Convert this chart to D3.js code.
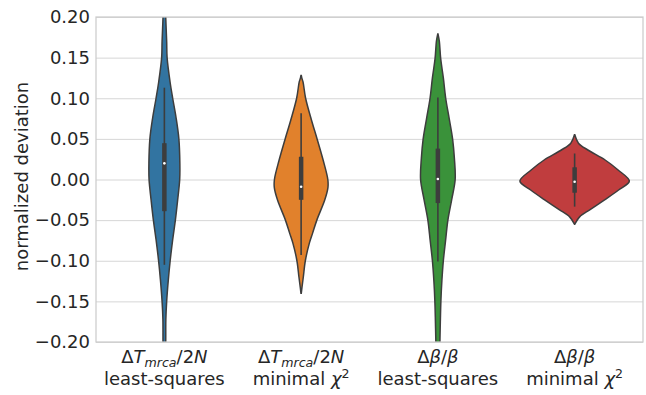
<!DOCTYPE html>
<html>
<head>
<meta charset="utf-8">
<script src="https://cdn.jsdelivr.net/npm/d3@7"></script>
<style>
  body { margin: 0; background: #fff; }
  text { font-family: "DejaVu Sans", sans-serif; fill: #262626; }
</style>
</head>
<body>
<div id="chart"></div>
<script>
const categories = ["dtLs", "dtChi", "dbLs", "dbChi"]
const colors = ["#3274a1", "#e1812c", "#3a923a", "#c03d3e"]
const yTicks = [-0.20, -0.15, -0.10, -0.05, 0.00, 0.05, 0.10, 0.15, 0.20]

// first label line as [text, italic, sub/sup]
const labelTop = [
  [["Δ"], ["T", true], ["mrca", true, "sub"], ["/2"], ["N", true]],
  [["Δ"], ["T", true], ["mrca", true, "sub"], ["/2"], ["N", true]],
  [["Δ"], ["β", true], ["/"], ["β", true]],
  [["Δ"], ["β", true], ["/"], ["β", true]]
]
const labelBottom = [
  [["least-squares"]],
  [["minimal "], ["χ", true], ["2", false, "sup"]],
  [["least-squares"]],
  [["minimal "], ["χ", true], ["2", false, "sup"]]
]

// violin outlines: [value, relative density width]
const dtLsProfile = [
  [0.24, 0.003], [0.22, 0.018], [0.199, 0.025], [0.17, 0.042], [0.15, 0.05], [0.12, 0.104],
  [0.10, 0.152], [0.076, 0.214], [0.05, 0.265], [0.02, 0.283], [0.00, 0.28],
  [-0.025, 0.243], [-0.05, 0.201], [-0.074, 0.152], [-0.10, 0.106], [-0.123, 0.073],
  [-0.15, 0.042], [-0.172, 0.027], [-0.20, 0.025], [-0.22, 0.018], [-0.24, 0.003]
]
const dtChiProfile = [
  [0.128, 0.003], [0.125, 0.012], [0.12, 0.035], [0.10, 0.082], [0.073, 0.19], [0.049, 0.296],
  [0.024, 0.402], [0.0, 0.488], [-0.01, 0.49], [-0.025, 0.433], [-0.05, 0.287],
  [-0.066, 0.21], [-0.078, 0.152], [-0.10, 0.077], [-0.12, 0.04], [-0.133, 0.015], [-0.14, 0.003]
]
const dbLsProfile = [
  [0.179, 0.003], [0.17, 0.027], [0.149, 0.051], [0.125, 0.1], [0.10, 0.143], [0.075, 0.207],
  [0.05, 0.269], [0.026, 0.302], [0.0, 0.316], [-0.025, 0.252], [-0.05, 0.183],
  [-0.075, 0.141], [-0.10, 0.1], [-0.125, 0.073], [-0.15, 0.055], [-0.175, 0.045],
  [-0.20, 0.037], [-0.22, 0.03], [-0.24, 0.01]
]
const dbChiProfile = [
  [0.055, 0.003], [0.0447, 0.07], [0.036, 0.25], [0.024, 0.558], [0.0117, 0.795],
  [-0.002, 1.0], [-0.0129, 0.804], [-0.025, 0.548], [-0.037, 0.283], [-0.046, 0.091], [-0.055, 0.003]
]
const profiles = [dtLsProfile, dtChiProfile, dbLsProfile, dbChiProfile]

// inner box stats
const q1 = [-0.039, -0.025, -0.029, -0.0163]
const q3 = [0.0447, 0.028, 0.038, 0.015]
const medians = [0.0199, -0.0089, 0.0006, -0.0027]
const whiskerLow = [-0.105, -0.093, -0.101, -0.0334]
const whiskerHigh = [0.113, 0.0816, 0.101, 0.032]

const width = 646
const height = 395
const margin = {top: 17, right: 3, bottom: 53, left: 96}
const plotW = width - margin.left - margin.right
const plotH = height - margin.top - margin.bottom
const gray = "#3d3d3d"
const fontSize = 18

const svg = d3.select("#chart").append("svg")
  .attr("width", width)
  .attr("height", height)

const x = d3.scaleBand().domain(categories).range([margin.left, margin.left + plotW])
const y = d3.scaleLinear().domain([-0.2, 0.2]).range([margin.top + plotH, margin.top])
const w = d3.scaleLinear().domain([0, 1]).range([0, x.bandwidth() * 0.4])
const cx = c => x(c) + x.bandwidth() / 2

// grid
svg.append("g")
  .attr("transform", `translate(${margin.left},0)`)
  .call(d3.axisLeft(y).tickValues(yTicks).tickSize(-plotW).tickFormat(""))
  .call(g => g.select(".domain").remove())
  .call(g => g.selectAll("line").attr("stroke", "#d6d6d6").attr("stroke-width", 1))

// y tick labels
svg.append("g")
  .attr("transform", `translate(${margin.left},0)`)
  .call(d3.axisLeft(y).tickValues(yTicks).tickSize(0).tickPadding(6).tickFormat(d3.format(".2f")))
  .call(g => g.select(".domain").remove())
  .call(g => g.selectAll("text").attr("font-size", fontSize).attr("fill", "#262626")
    .style("font-family", "'DejaVu Sans', sans-serif"))

svg.append("defs").append("clipPath").attr("id", "clip")
  .append("rect")
  .attr("x", margin.left).attr("y", margin.top)
  .attr("width", plotW).attr("height", plotH)

const violins = svg.append("g").attr("clip-path", "url(#clip)")

categories.forEach((c, i) => {
  const data = profiles[i].slice().sort((a, b) => b[0] - a[0])
  const area = d3.area()
    .curve(d3.curveCatmullRom)
    .y(d => y(d[0]))
    .x0(d => cx(c) - w(d[1]))
    .x1(d => cx(c) + w(d[1]))
  violins.append("path")
    .datum(data)
    .attr("d", area)
    .attr("fill", colors[i])
    .attr("stroke", gray)
    .attr("stroke-width", 1.5)

  // whiskers
  violins.append("line")
    .attr("x1", cx(c)).attr("x2", cx(c))
    .attr("y1", y(whiskerLow[i])).attr("y2", y(whiskerHigh[i]))
    .attr("stroke", gray).attr("stroke-width", 1.6)
  // box
  violins.append("line")
    .attr("x1", cx(c)).attr("x2", cx(c))
    .attr("y1", y(q1[i])).attr("y2", y(q3[i]))
    .attr("stroke", gray).attr("stroke-width", 4.5)
  // median
  violins.append("circle")
    .attr("cx", cx(c)).attr("cy", y(medians[i]))
    .attr("r", 1.3)
    .attr("fill", "#fff")
})

// frame
svg.append("rect")
  .attr("x", margin.left).attr("y", margin.top)
  .attr("width", plotW).attr("height", plotH)
  .attr("fill", "none")
  .attr("stroke", "#cccccc")
  .attr("stroke-width", 1.25)

// x labels
const addParts = (sel, parts) => {
  let shift = 0
  parts.forEach(p => {
    const t = sel.append("tspan").text(p[0])
    let target = 0
    if (p[1]) t.attr("font-style", "italic")
    if (p[2] === "sub") { t.attr("font-size", 12.6); target = 3.5 }
    if (p[2] === "sup") { t.attr("font-size", 12.6); target = -7.5 }
    if (target !== shift) t.attr("dy", target - shift)
    shift = target
  })
}

categories.forEach((c, i) => {
  const t1 = svg.append("text")
    .attr("x", cx(c)).attr("y", 363)
    .attr("text-anchor", "middle")
    .attr("font-size", fontSize)
  addParts(t1, labelTop[i])
  const t2 = svg.append("text")
    .attr("x", cx(c)).attr("y", 385)
    .attr("text-anchor", "middle")
    .attr("font-size", fontSize)
  addParts(t2, labelBottom[i])
})

// y label
svg.append("text")
  .attr("transform", `translate(28,${y(0) - 3}) rotate(-90)`)
  .attr("text-anchor", "middle")
  .attr("font-size", fontSize)
  .text("normalized deviation")
</script>
</body>
</html>
